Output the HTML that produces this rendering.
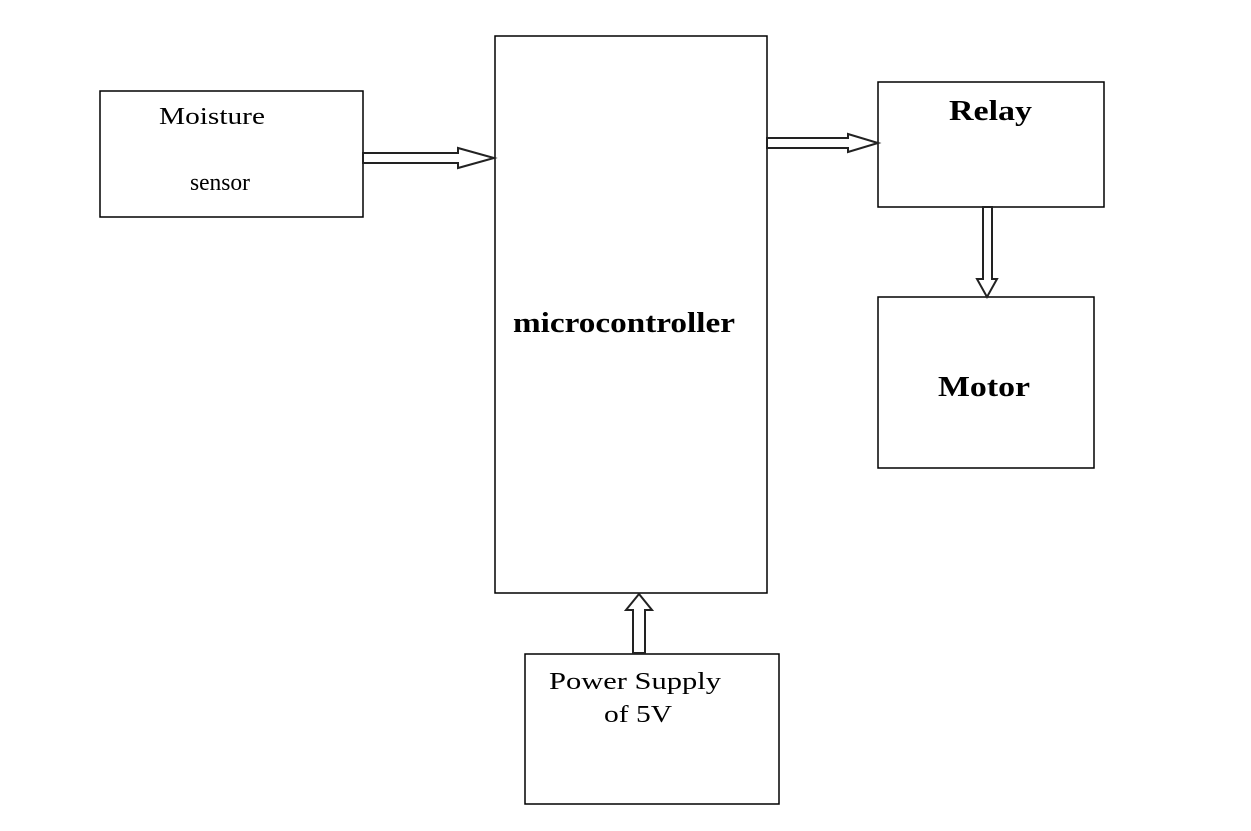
<!DOCTYPE html>
<html><head><style>
body{margin:0;background:#fff;width:1251px;height:826px;overflow:hidden;font-family:"Liberation Serif",serif}
</style></head><body>
<svg width="1251" height="826" xmlns="http://www.w3.org/2000/svg" font-family="Liberation Serif, serif">
<g fill="#fff" stroke="#000" stroke-width="1.5">
<rect x="100" y="91" width="263" height="126"/>
<rect x="495" y="36" width="272" height="557"/>
<rect x="878" y="82" width="226" height="125"/>
<rect x="878" y="297" width="216" height="171"/>
<rect x="525" y="654" width="254" height="150"/>
</g>
<g fill="#fff" stroke="#222" stroke-width="2">
<polygon points="363,153 458,153 458,148 494,158 458,168 458,163 363,163"/>
<polygon points="767,138 848,138 848,134 878,143 848,152 848,148 767,148"/>
<polygon points="983,207 992,207 992,279 997,279 987,297 977,279 983,279"/>
<polygon points="633,653 645,653 645,610 652,610 639,594 626,610 633,610"/>
</g>
<g font-size="24" fill="#000">
<text x="159" y="124" textLength="106" lengthAdjust="spacingAndGlyphs">Moisture</text>
<text x="190" y="190" textLength="60" lengthAdjust="spacingAndGlyphs">sensor</text>
<text x="549" y="689" textLength="172" lengthAdjust="spacingAndGlyphs">Power Supply</text>
<text x="604" y="722" textLength="68" lengthAdjust="spacingAndGlyphs">of 5V</text>
</g>
<g font-size="28" font-weight="bold" fill="#000">
<text x="513" y="332" textLength="222" lengthAdjust="spacingAndGlyphs">microcontroller</text>
<text x="949" y="120" textLength="83" lengthAdjust="spacingAndGlyphs">Relay</text>
<text x="938" y="396" textLength="92" lengthAdjust="spacingAndGlyphs">Motor</text>
</g>
</svg>
</body></html>
